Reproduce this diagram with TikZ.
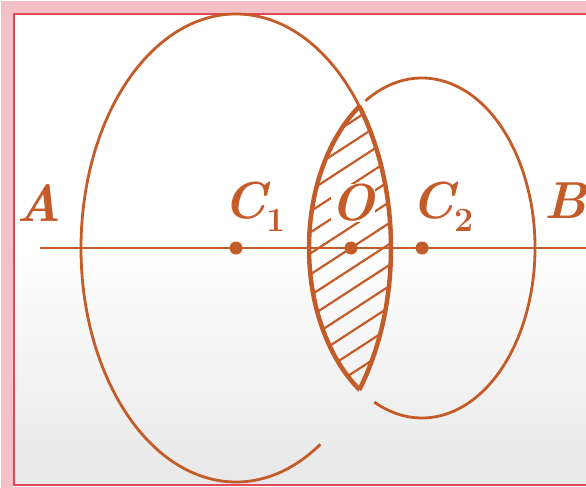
\documentclass[tikz,border=0pt]{standalone}
\usepackage{tikz}
\definecolor{LensBrown}{RGB}{196,92,42}
\definecolor{FrameRed}{RGB}{226,72,84}
\definecolor{FrameGlow}{RGB}{242,178,184}

\begin{document}
\begin{tikzpicture}[x=1pt, y=-1pt,
  every node/.style={text=LensBrown, font=\fontsize{52}{56}\selectfont\bfseries\itshape, inner sep=1pt},
  thinline/.style={LensBrown, line width=2.8pt},
  thickline/.style={LensBrown, line width=4.5pt},
  dot/.style={circle, fill=LensBrown, inner sep=0pt, minimum size=13pt}]
\useasboundingbox (0,0) rectangle (586,487);
% background and frame
\fill[white] (0,0) rectangle (586,487);
\shade[top color=white, bottom color=black!9] (14,240) rectangle (586,485);
\draw[FrameGlow, line width=12pt, opacity=0.8] (7,7) rectangle (600,493);
\draw[FrameRed, line width=2.5pt] (14,14) rectangle (600,485);
% centres
\coordinate (C1) at (236,248);
\coordinate (C2) at (422,248);
\coordinate (Am) at (40,248);
\coordinate (Bm) at (586,248);
% hatched lens
\begin{scope}
  \clip (C1) ellipse[x radius=155, y radius=234];
  \clip (C2) ellipse[x radius=113, y radius=170];
  \foreach \k in {-9,...,9}
    \draw[LensBrown, line width=2.2pt] (291,248+\k*21+39) -- (411,248+\k*21-39);
\end{scope}
\begin{scope}
  \clip (C1) ellipse[x radius=155, y radius=234];
  \draw[thickline] (C2) ellipse[x radius=113, y radius=170];
\end{scope}
\begin{scope}
  \clip (C2) ellipse[x radius=113, y radius=170];
  \draw[thickline] (C1) ellipse[x radius=155, y radius=234];
\end{scope}
% circles
\draw[thinline] (C1) ++(-36:155 and 234) arc[start angle=-36, end angle=-303, x radius=155, y radius=234];
\draw[thinline] (C2) ++(-120:113 and 170) arc[start angle=-120, end angle=115, x radius=113, y radius=170];
% line AB
\draw[LensBrown, line width=2.5pt] (Am) -- (Bm);
\node[dot] (c1dot) at (C1) {};
\node[dot] (odot) at (351,248) {};
\node[dot] (c2dot) at (C2) {};
% labels
\node (labA) at (39,203) {A};
\node[anchor=base west] (labC1) at (222,218) {C\textsubscript{\fontsize{34}{36}\selectfont\upshape 1}};
\node[fill=white, inner sep=0pt] (labO) at (353,203) {O};
\node[anchor=base west] (labC2) at (410,218) {C\textsubscript{\fontsize{34}{36}\selectfont\upshape 2}};
\node (labB) at (566,201) {B};
\end{tikzpicture}
\end{document}
